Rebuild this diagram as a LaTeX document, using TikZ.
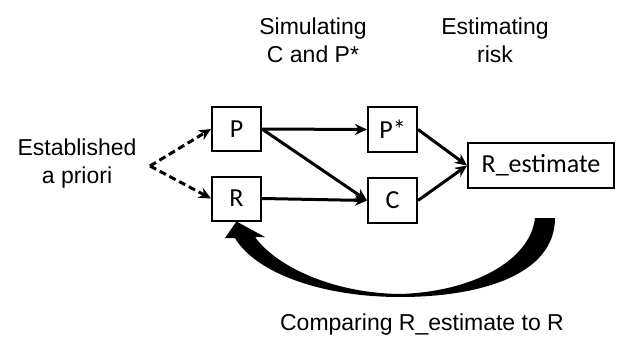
\documentclass[tikz,border=0pt]{standalone}
\usepackage{fontspec}
\setmainfont{Liberation Sans}
\newfontfamily\boxfont{Carlito}
\usetikzlibrary{arrows.meta}

\tikzset{
  box/.style={draw, line width=2pt, inner sep=0pt,
    minimum width=49pt, minimum height=44pt,
    font=\boxfont\fontsize{26}{30}\selectfont},
  note/.style={align=center, inner sep=0pt,
    font=\fontsize{23}{28}\selectfont},
  link/.style={line width=3pt, -{Stealth[length=12pt,width=11pt]}},
}

\begin{document}
\begin{tikzpicture}[x=1pt,y=-1pt]
  \useasboundingbox (0,0) rectangle (619,340);

  \node[box] (P) at (236.5,129) {P};
  \node[box] (R) at (236.5,198.5) {R};
  \node[box, minimum height=45pt] (Pstar) at (392.5,129.5) {P*};
  \node[box, minimum height=45pt] (C) at (392.5,200.5) {C};
  \node[box, minimum width=146pt, minimum height=45pt] (Rest) at (541,165.5) {R\_estimate};

  \node[note] (apriori) at (77,164) {Established\\a priori};
  \node[note] (simul) at (313,40) {Simulating\\C and P*};
  \node[note] (estim) at (495,40) {Estimating\\risk};
  \node[note] (compare) at (422,325) {Comparing R\_estimate to R};

  \coordinate (split) at (150,166);
  \draw[link, dash pattern=on 7pt off 4pt] (split) -- (P.west);
  \draw[link, dash pattern=on 7pt off 4pt] (split) -- (R.west);

  \draw[link] (P.east) -- (Pstar.west);
  \draw[link] (P.east) -- (C.west);
  \draw[link] (R.east) -- (C.west);
  \draw[link] (Pstar.east) -- (Rest.west);
  \draw[link] (C.east) -- (Rest.west);

  % comparing back to R
  \fill (535,218) -- (555,218)
    .. controls (555,275) and (480,297) .. (400,297)
    .. controls (320,297) and (255,272) .. (235,238)
    -- (225,238) -- (R.south) -- (265,237) -- (255,237)
    .. controls (275,265) and (330,293) .. (400,294)
    .. controls (470,292) and (530,262) .. (535,218) -- cycle;
\end{tikzpicture}
\end{document}
